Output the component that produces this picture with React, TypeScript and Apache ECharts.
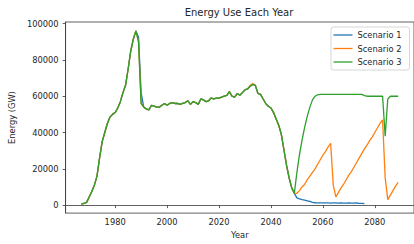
import React, { useEffect, useRef } from "react";
import * as echarts from "echarts";

const seriesNames = ["Scenario 1", "Scenario 2", "Scenario 3"];
const seriesColors = ["#1f77b4", "#ff7f0e", "#2ca02c"];

const historyStartYear = 1967;
// shared history 1967..2049
const historyValues = [
  500, 1000, 1500, 4500, 7500, 11000, 16000, 26000, 35000, 40000,
  45000, 48500, 50000, 51000, 53500, 57000, 62000, 66000, 75000, 85000,
  91500, 96000, 90000, 56000, 54000, 53000, 52500, 55000, 54500, 54000,
  54000, 55000, 56000, 55000, 56000, 56500, 56000, 56000, 55500, 56000,
  56500, 57500, 55500, 57000, 56500, 55500, 58500, 58000, 57000, 57500,
  59000, 58500, 59000, 59000, 59500, 60000, 60500, 62500, 60000, 59500,
  61500, 60500, 62000, 63500, 64000, 65500, 66500, 66000, 61500, 61000,
  58500, 56000, 54500, 53500, 51000, 47500, 44000, 39000, 30500, 22000,
  15000, 9500, 6500,
];

const scenario1OverrideYears = [1989, 1990];
const scenario1OverrideValues = [92500, 62000];
const scenario2OverrideYears = [2032, 2033];
const scenario2OverrideValues = [66000, 67000];

const tailStartYear = 2050;
// Scenario 1: 2050..2076
const scenario1Tail = [
  4000, 3400, 3000, 2800, 2400, 2000, 1500, 1300, 1200, 1200,
  1200, 1200, 1200, 1100, 1200, 1200, 1100, 1200, 1100, 1100,
  1200, 1100, 1100, 1200, 1000, 1000, 800,
];
// Scenario 2: 2050..2089
const scenario2Tail = [
  6500, 8000, 10000, 11500, 14000, 16000, 18000, 20000, 22500, 25000,
  27500, 29500, 32000, 34000, 11000, 4500, 7000, 9500, 11500, 14000,
  16500, 18500, 21000, 23500, 26000, 28500, 31000, 33000, 35500, 37500,
  40000, 42500, 45000, 47000, 15000, 3000, 5500, 8000, 10500, 12500,
];
// Scenario 3: 2050..2089
const scenario3Tail = [
  18000, 28000, 36000, 43000, 49000, 54000, 58000, 60000, 60800, 61000,
  61000, 61000, 61000, 61000, 61000, 61000, 61000, 61000, 61000, 61000,
  61000, 61000, 61000, 61000, 61000, 61000, 60300, 60000, 60000, 60000,
  60000, 60000, 60000, 60000, 38000, 58500, 60000, 60000, 60000, 60000,
];

const xTickValues = [1980, 2000, 2020, 2040, 2060, 2080];
const yTickValues = [0, 20000, 40000, 60000, 80000, 100000];

function buildSeries(tail: number[], oy: number[], ov: number[]) {
  const pts: [number, number][] = [];
  historyValues.forEach((v, i) => {
    const yr = historyStartYear + i;
    const k = oy.indexOf(yr);
    pts.push([yr, k >= 0 ? ov[k] : v]);
  });
  tail.forEach((v, i) => pts.push([tailStartYear + i, v]));
  return pts;
}

const TEXT = "#262626";
const AXIS = "#3a3a3a";
const FONT = "DejaVu Sans";

export default function App() {
  const ref = useRef<HTMLDivElement>(null);
  useEffect(() => {
    document.body.style.margin = "0";
    if (!ref.current) return;
    const chart = echarts.init(ref.current, undefined, { renderer: "svg" });
    const data = [
      buildSeries(scenario1Tail, scenario1OverrideYears, scenario1OverrideValues),
      buildSeries(scenario2Tail, scenario2OverrideYears, scenario2OverrideValues),
      buildSeries(scenario3Tail, [], []),
    ];
    chart.setOption({
      animation: false,
      textStyle: { fontFamily: FONT },
      grid: {
        left: 63,
        right: -1,
        top: 22,
        bottom: 26,
        show: true,
        borderColor: AXIS,
        borderWidth: 0.8,
        backgroundColor: "transparent",
      },
      graphic: [
        {
          type: "text",
          x: 239,
          y: 12.5,
          style: {
            text: "Energy Use Each Year",
            fontSize: 10,
            fontFamily: FONT,
            fill: TEXT,
            align: "center",
            verticalAlign: "middle",
          },
        },
      ],
      legend: {
        orient: "vertical",
        left: 331,
        top: 27,
        icon: "rect",
        itemWidth: 19,
        itemHeight: 1.3,
        itemGap: 3.5,
        padding: [3, 8, 3, 2.5],
        borderColor: "#cccccc",
        borderWidth: 0.8,
        borderRadius: 2.5,
        backgroundColor: "rgba(255,255,255,0.8)",
        textStyle: { fontSize: 8.3, color: TEXT, fontFamily: FONT, lineHeight: 10 },
        data: seriesNames,
      },
      xAxis: {
        type: "value",
        min: 1960.9,
        max: 2095.1,
        name: "Year",
        nameLocation: "middle",
        nameGap: 17,
        nameTextStyle: { fontSize: 8.3, color: TEXT, fontFamily: FONT },
        axisLine: { show: true, lineStyle: { color: AXIS, width: 0.8 } },
        axisTick: { show: true, length: 3, lineStyle: { color: AXIS, width: 0.8 }, customValues: xTickValues },
        axisLabel: {
          fontSize: 8.3,
          color: TEXT,
          margin: 5,
          customValues: xTickValues,
          formatter: (v: number) => String(v),
        },
        splitLine: { show: false },
      },
      yAxis: {
        type: "value",
        min: -4400,
        max: 100900,
        name: "Energy (GW)",
        nameLocation: "middle",
        nameRotate: 90,
        nameGap: 47,
        nameTextStyle: { fontSize: 8.3, color: TEXT, fontFamily: FONT },
        axisLine: { show: true, lineStyle: { color: AXIS, width: 0.8 } },
        axisTick: { show: true, length: 3, lineStyle: { color: AXIS, width: 0.8 }, customValues: yTickValues },
        axisLabel: {
          fontSize: 8.3,
          color: TEXT,
          margin: 7,
          customValues: yTickValues,
          formatter: (v: number) => String(v),
        },
        splitLine: { show: false },
      },
      series: seriesNames.map((name, i) => ({
        name,
        type: "line",
        data: data[i],
        symbol: "none",
        color: seriesColors[i],
        lineStyle: { color: seriesColors[i], width: 1.3 },
      })),
    });
    return () => chart.dispose();
  }, []);
  return <div ref={ref} style={{ width: 414, height: 244 }} />;
}
